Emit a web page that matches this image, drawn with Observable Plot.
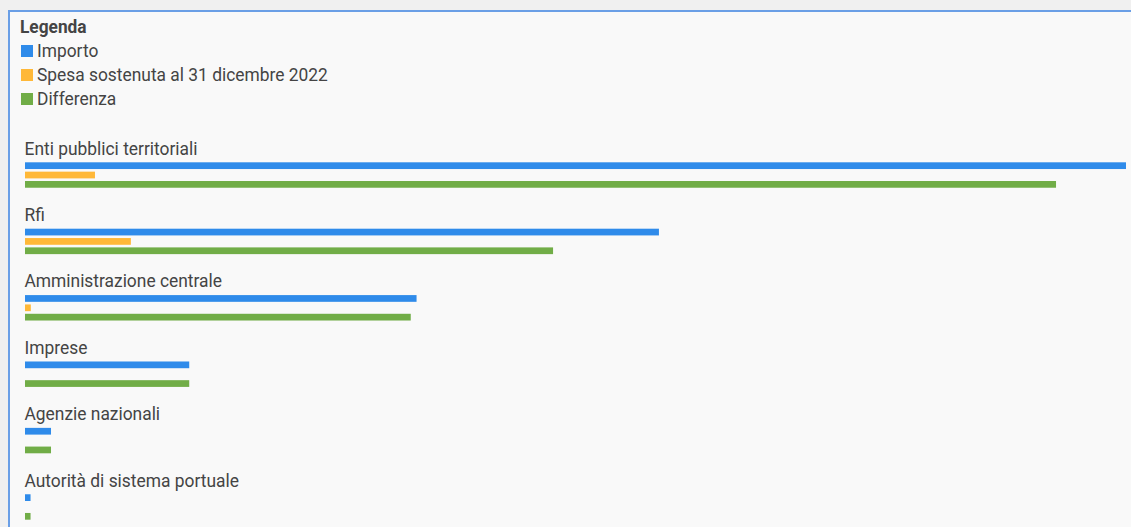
<!DOCTYPE html>
<html>
<head>
<meta charset="utf-8">
<script src="https://cdn.jsdelivr.net/npm/d3@7"></script>
<script src="https://cdn.jsdelivr.net/npm/@observablehq/plot@0.6"></script>
<style>
html, body { margin: 0; padding: 0; overflow: hidden; width: 1131px; height: 527px; background: #f0f0f0; font-family: Roboto, "Noto Sans", sans-serif; }
#box { position: absolute; left: 8px; top: 10px; width: 1200px; height: 600px; border-left: 2px solid #6a9fe6; border-top: 2px solid #6a9fe6; background: #f9f9f9; }
#legend { position: absolute; left: 20px; top: 15px; color: #444; font-size: 18px; white-space: nowrap; }
#legend .title { font-weight: bold; line-height: 24px; height: 24px; transform: scaleX(0.96); transform-origin: left center; }
#legend .item { display: flex; align-items: center; height: 24px; line-height: 24px; }
#legend .sw { width: 12px; height: 12px; margin-left: 1px; margin-right: 4px; flex: none; }
#legend .item span { display: inline-block; transform: scaleX(0.965); transform-origin: left center; }
#chart { position: absolute; left: 0; top: 120px; }
</style>
</head>
<body>
<div id="box"></div>
<div id="legend"></div>
<div id="chart"></div>
<script>
const categories = ["Enti pubblici territoriali", "Rfi", "Amministrazione centrale", "Imprese", "Agenzie nazionali", "Autorità di sistema portuale"];
const series = ["Importo", "Spesa sostenuta al 31 dicembre 2022", "Differenza"];
const colors = ["#2f8bea", "#ffb838", "#71ad47"];
const importo = [41700, 24010, 14830, 6220, 985, 210];
const spesa = [2650, 4010, 220, 0, 0, 0];
const differenza = [39050, 20000, 14610, 6220, 985, 210];
const legendTitle = "Legenda";

const valuesBySeries = [importo, spesa, differenza];
const rows = [];
categories.forEach((c, i) => {
  series.forEach((s, j) => rows.push({category: c, series: s, value: valuesBySeries[j][i]}));
});

// legend
const legend = d3.select("#legend");
legend.append("div").attr("class", "title").text(legendTitle);
series.forEach((s, j) => {
  const it = legend.append("div").attr("class", "item");
  it.append("div").attr("class", "sw").style("background", colors[j]);
  it.append("span").text(s);
});

const chart = Plot.plot({
  width: 1131,
  height: 410,
  marginLeft: 25,
  marginRight: 5,
  marginTop: 41,
  marginBottom: 9,
  style: {background: "transparent", fontFamily: "Roboto, 'Noto Sans', sans-serif", color: "#444"},
  x: {domain: [0, d3.max(importo)], axis: null},
  y: {domain: series, axis: null, paddingInner: 0.28, paddingOuter: 0.14, round: false},
  fy: {domain: categories, axis: null, paddingInner: 0.5776, paddingOuter: 0, round: false},
  color: {domain: series, range: colors},
  marks: [
    Plot.barX(rows, {filter: d => d.value > 0, x: "value", y: "series", fy: "category", fill: "series"}),
    Plot.text(categories, {fy: d => d, text: d => d, frameAnchor: "top-left", textAnchor: "start", lineAnchor: "middle", dx: -1, dy: -13, fill: "#444", fontSize: 19})
  ]
});
// emulate the condensed face of the original labels
chart.querySelectorAll("text").forEach(t => {
  const x = +(t.getAttribute("x") || 0);
  const tr = t.getAttribute("transform") || "";
  t.setAttribute("transform", `${tr} translate(${x},0) scale(0.915,1) translate(${-x},0)`);
});
document.getElementById("chart").appendChild(chart);
</script>
</body>
</html>
